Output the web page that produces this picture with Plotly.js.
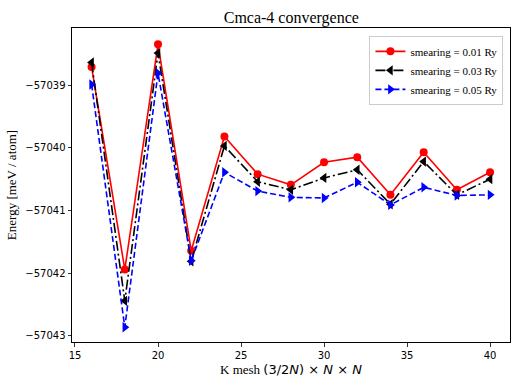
<!DOCTYPE html>
<html><head><meta charset="utf-8">
<script src="https://cdn.plot.ly/plotly-3.0.1.min.js"></script>
<style>html,body{margin:0;padding:0;background:#fff}#chart{width:523px;height:392px}</style>
</head><body><div id="chart"></div>
<script>
const kMesh = [16,18,20,22,24,26,28,30,32,34,36,38,40];
const e001 = [-57038.71,-57041.94,-57038.35,-57041.64,-57039.82,-57040.42,-57040.59,-57040.23,-57040.15,-57040.75,-57040.07,-57040.67,-57040.39];
const e003 = [-57038.64,-57042.44,-57038.49,-57041.81,-57039.97,-57040.54,-57040.67,-57040.48,-57040.35,-57040.90,-57040.22,-57040.75,-57040.50];
const e005 = [-57038.99,-57042.86,-57038.81,-57041.80,-57040.39,-57040.69,-57040.79,-57040.80,-57040.55,-57040.91,-57040.63,-57040.76,-57040.75];
const seriesNames = ['smearing = 0.01 Ry','smearing = 0.03 Ry','smearing = 0.05 Ry'];
const yTicks = [-57039,-57040,-57041,-57042,-57043];
const xTicks = [15,20,25,30,35,40];

const serif = 'Liberation Serif, Times New Roman, serif';
const sans = 'DejaVu Sans, sans-serif';

const traces = [
  {x:kMesh,y:e001,name:seriesNames[0],mode:'lines+markers',line:{color:'#ff0000',width:1.6,dash:'solid'},marker:{symbol:'circle',size:8,color:'#ff0000'}},
  {x:kMesh,y:e003,name:seriesNames[1],mode:'lines+markers',line:{color:'#000000',width:1.6,dash:'10px,3px,2px,3px'},marker:{symbol:'triangle-left',size:9,color:'#000000'}},
  {x:kMesh,y:e005,name:seriesNames[2],mode:'lines+markers',line:{color:'#0000ff',width:1.6,dash:'6px,3px'},marker:{symbol:'triangle-right',size:9,color:'#0000ff'}}
];

const layout = {
  width:523,height:392,
  margin:{l:72,r:13,t:28,b:50},
  paper_bgcolor:'#fff',plot_bgcolor:'#fff',
  showlegend:true,
  title:{text:'Cmca-4 convergence',font:{family:serif,size:16,color:'#000'},x:0.557,xanchor:'center',y:0.955,yanchor:'middle'},
  xaxis:{
    range:[14.82,41.2],tickvals:xTicks,ticktext:xTicks.map(String),
    showgrid:false,zeroline:false,showline:true,linecolor:'#000',linewidth:1,mirror:true,
    ticks:'outside',ticklen:3.5,tickwidth:0.8,tickcolor:'#000',
    tickfont:{family:sans,size:10,color:'#000'},
    title:{text:'K mesh <span style="font-family:DejaVu Sans">(3/2<i>N</i>) × <i>N</i> × <i>N</i></span>',font:{family:serif,size:13,color:'#000'},standoff:5}
  },
  yaxis:{
    range:[-57043.096,-57038.09],tickvals:yTicks,ticktext:yTicks.map(v=>'\u2212'+Math.abs(v)),
    showgrid:false,zeroline:false,showline:true,linecolor:'#000',linewidth:1,mirror:true,
    ticks:'outside',ticklen:3.5,tickwidth:0.8,tickcolor:'#000',
    tickfont:{family:sans,size:10,color:'#000'},
    title:{text:'Energy [meV / atom]',font:{family:serif,size:13,color:'#000'},standoff:5}
  },
  legend:{x:0.985,xanchor:'right',y:0.975,yanchor:'top',bgcolor:'rgba(255,255,255,0.8)',bordercolor:'#ccc',borderwidth:1,
    font:{family:serif,size:11,color:'#000'},tracegroupgap:0,itemwidth:30}
};
Plotly.newPlot('chart',traces,layout,{displayModeBar:false,staticPlot:true});
</script></body></html>
